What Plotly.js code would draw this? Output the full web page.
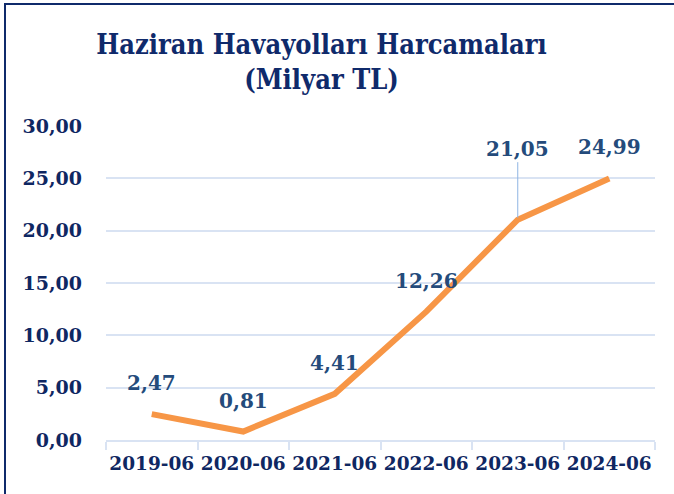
<!DOCTYPE html>
<html>
<head>
<meta charset="utf-8">
<script src="https://cdn.plot.ly/plotly-3.0.1.min.js"></script>
<style>
  html, body { margin: 0; padding: 0; background: #ffffff; }
  #wrap { position: relative; width: 674px; height: 494px; overflow: hidden; }
  #chart { width: 674px; height: 494px; }
  .bl { position: absolute; left: 4px; top: 3px; width: 2px; height: 500px; background: #0f2a6b; }
  .bt { position: absolute; left: 4px; top: 3px; width: 680px; height: 2px; background: #0f2a6b; }
</style>
</head>
<body>
<div id="wrap">
  <div id="chart"></div>
  <div class="bl"></div>
  <div class="bt"></div>
</div>
<script>
const categories = ["2019-06", "2020-06", "2021-06", "2022-06", "2023-06", "2024-06"];
const values = [2.47, 0.81, 4.41, 12.26, 21.05, 24.99];
const yTickValues = [0, 5, 10, 15, 20, 25, 30];
const yTickLabels = ["0,00", "5,00", "10,00", "15,00", "20,00", "25,00", "30,00"];
const titleText = "Haziran Havayolları Harcamaları<br>(Milyar TL)";

const fmt = v => v.toFixed(2).replace(".", ",");

const navy = "#0f2762";
const labelBlue = "#244b7b";
const grid = "#d9e3f3";

const trace = {
  x: categories,
  y: values,
  type: "scatter",
  mode: "lines",
  line: { color: "#f79646", width: 6 },
  hoverinfo: "skip"
};

const annotations = categories.map((c, i) => {
  const leader = (i === 4);
  return {
    x: c, y: values[i], xref: "x", yref: "y",
    text: fmt(values[i]),
    font: { family: "DejaVu Serif", size: 20, color: labelBlue, weight: 700 },
    showarrow: leader,
    arrowhead: 0, arrowwidth: 1, arrowcolor: "#8eb4e3",
    ax: leader ? 0 : undefined, ay: leader ? -71 : undefined,
    standoff: 2,
    yshift: leader ? 0 : 31
  };
});

const layout = {
  width: 674, height: 494,
  paper_bgcolor: "#ffffff", plot_bgcolor: "#ffffff",
  margin: { l: 106, r: 19, t: 126, b: 54 },
  showlegend: false,
  title: {
    text: titleText,
    font: { family: "DejaVu Serif Condensed", size: 27, color: "#0f2a6b", weight: 700 },
    x: 0.477, xanchor: "center", xref: "container",
    y: 0.89, yanchor: "top", yref: "container"
  },
  xaxis: {
    type: "category",
    range: [-0.5, 5.5],
    tickson: "boundaries",
    tickangle: 0,
    ticks: "outside", ticklen: 8, tickwidth: 2, tickcolor: grid,
    ticklabelstandoff: 6,
    showline: true, linecolor: grid, linewidth: 2,
    showgrid: false, zeroline: false,
    tickfont: { family: "DejaVu Serif", size: 18.5, color: navy, weight: 700 }
  },
  yaxis: {
    range: [0, 30],
    tickmode: "array", tickvals: yTickValues, ticktext: yTickLabels,
    showgrid: true, gridcolor: grid, gridwidth: 2,
    zeroline: false, showline: false, ticks: "",
    ticklabelstandoff: 23,
    tickfont: { family: "DejaVu Serif", size: 19, color: navy, weight: 700 }
  },
  annotations: annotations
};

Plotly.newPlot("chart", [trace], layout, { displayModeBar: false, staticPlot: true });
</script>
</body>
</html>
